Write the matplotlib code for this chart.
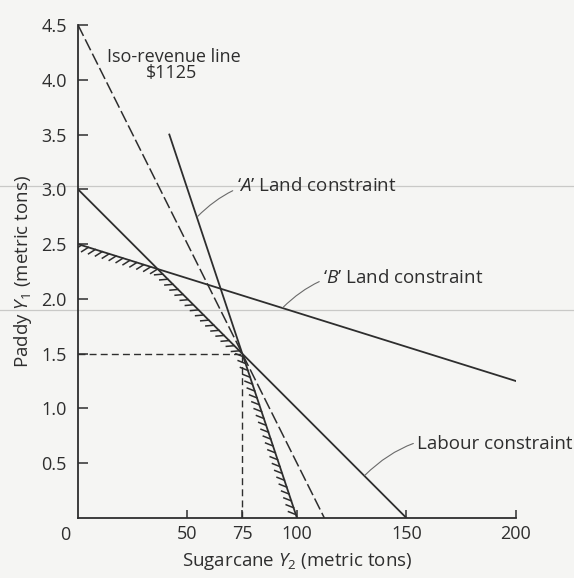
import matplotlib
matplotlib.use("Agg")
import matplotlib.pyplot as plt
from matplotlib import patheffects
from matplotlib.lines import Line2D


# constraint lines (sugarcane Y2, paddy Y1)
ISO_X = [0, 112.5]
ISO_Y = [4.5, 0]
LAND_A_X = [41.7, 100]
LAND_A_Y = [3.5, 0]
LAND_B_X = [0, 200]
LAND_B_Y = [2.5, 1.25]
LABOUR_X = [0, 150]
LABOUR_Y = [3.0, 0]
FRONTIER_X = [0, 36.4, 75, 100]
FRONTIER_Y = [2.5, 2.27, 1.5, 0]
OPT_X = 75
OPT_Y = 1.5

X_TICKS = [50, 75, 100, 150, 200]
Y_TICKS = [0.5, 1.0, 1.5, 2.0, 2.5, 3.0, 3.5, 4.0, 4.5]

PAPER = "#f5f5f3"
INK = "#2e2e2e"
LEADER = "#6a6a6a"
SCAN = "#c9c9c7"
FS = 13.5

plt.rcParams["font.family"] = ["Open Sans", "DejaVu Sans"]
plt.rcParams["mathtext.fontset"] = "custom"
plt.rcParams["mathtext.rm"] = "Open Sans"
plt.rcParams["mathtext.it"] = "Open Sans:italic"


def main():
    fig = plt.figure(figsize=(5.74, 5.78), dpi=100, facecolor=PAPER)
    ax = fig.add_axes([0.1359, 0.1038, 0.763, 0.853])
    ax.patch.set_visible(False)

    # faint scanner lines bleeding through the page
    for yf in [1 - 186 / 578, 1 - 310 / 578]:
        fig.add_artist(Line2D([0, 1], [yf, yf], transform=fig.transFigure,
                              color=SCAN, lw=0.9, zorder=0))

    ax.plot(ISO_X, ISO_Y, color=INK, lw=1.1, dashes=(8, 2.5))
    ax.plot(LAND_A_X, LAND_A_Y, color=INK, lw=1.3)
    ax.plot(LAND_B_X, LAND_B_Y, color=INK, lw=1.3)
    ax.plot(LABOUR_X, LABOUR_Y, color=INK, lw=1.3)
    ax.plot(FRONTIER_X, FRONTIER_Y, color=INK, lw=0,
            path_effects=[patheffects.TickedStroke(angle=-130, spacing=5.2,
                                                   length=1.1, linewidth=1.1,
                                                   foreground=INK)])
    ax.plot([0, OPT_X], [OPT_Y, OPT_Y], color=INK, lw=1.0, dashes=(5, 3))
    ax.plot([OPT_X, OPT_X], [0, OPT_Y], color=INK, lw=1.0, dashes=(5, 3))

    ax.text(43.8, 4.21, "Iso-revenue line", ha="center", va="center",
            fontsize=FS - 0.5, color=INK)
    ax.text(42.5, 4.06, "$1125", ha="center", va="center",
            fontsize=FS - 0.5, color=INK)

    ax.annotate("‘$A$’ Land constraint", xy=(54.5, 2.75), xytext=(72.5, 3.03),
                ha="left", va="center", fontsize=FS, color=INK,
                arrowprops=dict(arrowstyle="-", color=LEADER, lw=0.8,
                                shrinkA=1, shrinkB=0,
                                connectionstyle="arc3,rad=0.3"))
    ax.annotate("‘$B$’ Land constraint", xy=(93.5, 1.92), xytext=(112, 2.19),
                ha="left", va="center", fontsize=FS, color=INK,
                arrowprops=dict(arrowstyle="-", color=LEADER, lw=0.8,
                                shrinkA=1, shrinkB=0,
                                connectionstyle="arc3,rad=0.3"))
    ax.annotate("Labour constraint", xy=(131, 0.39), xytext=(155, 0.68),
                ha="left", va="center", fontsize=FS, color=INK,
                arrowprops=dict(arrowstyle="-", color=LEADER, lw=0.8,
                                shrinkA=1, shrinkB=0,
                                connectionstyle="arc3,rad=0.3"),
                annotation_clip=False)

    ax.set_xlim(0, 200)
    ax.set_ylim(0, 4.5)
    ax.spines["top"].set_visible(False)
    ax.spines["right"].set_visible(False)
    for side in ["left", "bottom"]:
        ax.spines[side].set_color(INK)
        ax.spines[side].set_linewidth(1.3)
    ax.set_xticks(X_TICKS)
    ax.set_xticklabels([str(v) for v in X_TICKS])
    ax.set_yticks(Y_TICKS)
    ax.set_yticklabels([f"{v:.1f}" for v in Y_TICKS])
    ax.tick_params(axis="both", direction="in", colors=INK, labelsize=FS - 0.5,
                   width=1.1)
    ax.tick_params(axis="y", length=7, pad=8)
    ax.tick_params(axis="x", length=6, pad=5)
    ax.text(-0.03, -0.034, "0", transform=ax.transAxes, ha="center",
            va="center", fontsize=FS - 0.5, color=INK)

    ax.set_xlabel("Sugarcane $Y_2$ (metric tons)", fontsize=FS, color=INK,
                  labelpad=6)
    ax.set_ylabel("Paddy $Y_1$ (metric tons)", fontsize=FS, color=INK,
                  labelpad=5)

    fig.savefig("out.png", dpi=100, facecolor=PAPER)
    plt.close(fig)


if __name__ == "__main__":
    main()
